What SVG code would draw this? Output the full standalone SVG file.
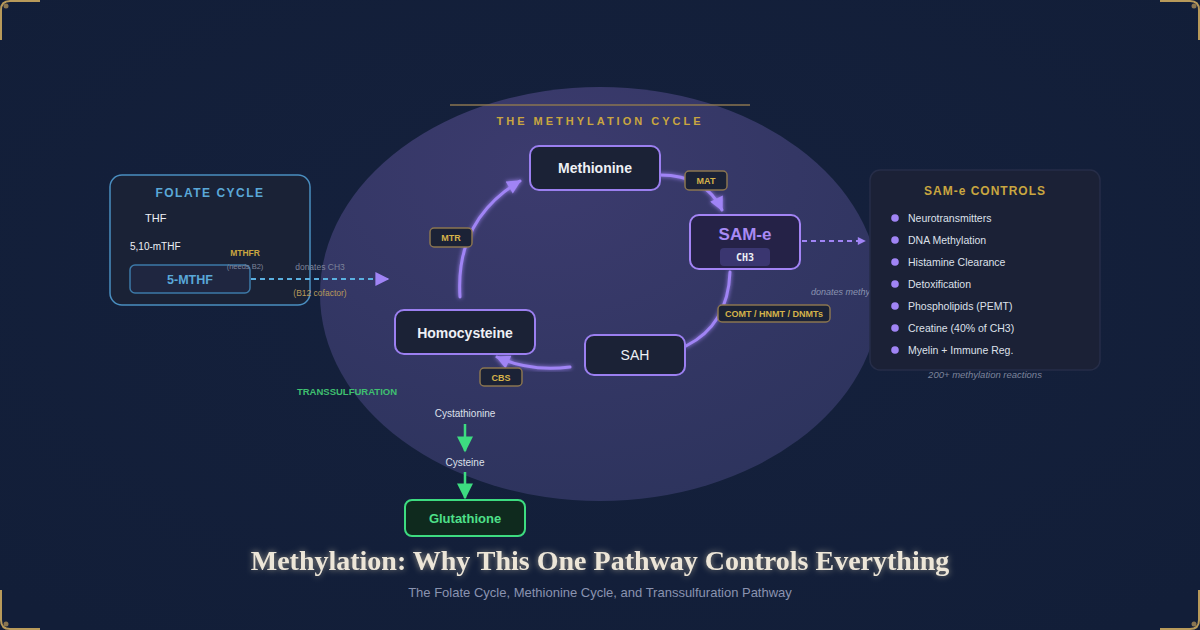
<svg xmlns="http://www.w3.org/2000/svg" width="1200" height="630" viewBox="0 0 1200 630">
<defs>
<radialGradient id="bgG" cx="0.5" cy="0.45" r="0.7">
<stop offset="0" stop-color="#15213d"/>
<stop offset="1" stop-color="#121e38"/>
</radialGradient>
<radialGradient id="ellG" cx="0.4" cy="0.2" r="0.9">
<stop offset="0" stop-color="#3c3b6e"/>
<stop offset="1" stop-color="#2c335c"/>
</radialGradient>
<filter id="glow" x="-30%" y="-30%" width="160%" height="160%">
<feGaussianBlur stdDeviation="2" result="b"/>
<feMerge><feMergeNode in="b"/><feMergeNode in="SourceGraphic"/></feMerge>
</filter>
<filter id="tglow" x="-10%" y="-50%" width="120%" height="200%">
<feGaussianBlur stdDeviation="3" result="b"/>
<feFlood flood-color="#f4e6c0" flood-opacity="0.55"/>
<feComposite in2="b" operator="in" result="c"/>
<feMerge><feMergeNode in="c"/><feMergeNode in="SourceGraphic"/></feMerge>
</filter>
<marker id="arrD" viewBox="0 0 10 10" refX="9" refY="5" markerWidth="10" markerHeight="8" orient="auto" markerUnits="userSpaceOnUse">
<path d="M0,0 L10,5 L0,10 Z" fill="#a084f5"/>
</marker>
<marker id="arrF" viewBox="0 0 10 10" refX="9" refY="5" markerWidth="20" markerHeight="14" orient="auto" markerUnits="userSpaceOnUse">
<path d="M0,0 L10,5 L0,10 Z" fill="#a084f5"/>
</marker>
<marker id="arrG" viewBox="0 0 10 10" refX="9" refY="5" markerWidth="26" markerHeight="16" orient="auto" markerUnits="userSpaceOnUse">
<path d="M0,0 L10,5 L0,10 Z" fill="#3ddc80"/>
</marker>
<style>
.sans{font-family:"Liberation Sans",Arial,sans-serif}
.node{fill:#1b2236;stroke:#9b7ff0;stroke-width:2}
.ntext{font-family:"Liberation Sans",Arial,sans-serif;font-weight:bold;font-size:14px;fill:#eef0f5;text-anchor:middle}
.enz rect{fill:#1b2236;stroke:#8a7550;stroke-width:1.5}
.enz text{font-family:"Liberation Sans",Arial,sans-serif;font-weight:bold;font-size:9px;fill:#d4b24a;text-anchor:middle}
.arc{fill:none;stroke:#a084f5;stroke-width:3;stroke-linecap:round}
.item{font-family:"Liberation Sans",Arial,sans-serif;font-size:10.5px;fill:#dde0ea}
.bul{fill:#a084f5}
.corner{fill:none;stroke:#b89a5a;stroke-width:2}
.cdot{fill:#8a7550}
</style>
</defs>

<rect width="1200" height="630" fill="url(#bgG)"/>

<g id="corners">
<path class="corner" d="M1,40 V10 Q1,1 10,1 H40"/>
<circle class="cdot" cx="6" cy="6" r="2.5"/>
<path class="corner" d="M1160,1 H1190 Q1199,1 1199,10 V40"/>
<circle class="cdot" cx="1194" cy="6" r="2.5"/>
<path class="corner" d="M1,590 V620 Q1,629 10,629 H40"/>
<circle class="cdot" cx="6" cy="624" r="2.5"/>
<path class="corner" d="M1160,629 H1190 Q1199,629 1199,620 V590"/>
<circle class="cdot" cx="1194" cy="624" r="2.5"/>
</g>

<ellipse id="cycle-bg" cx="600" cy="294" rx="280" ry="207" fill="url(#ellG)"/>

<g id="cycle-title">
<line x1="450" y1="105" x2="750" y2="105" stroke="#8a7550" stroke-width="1.5"/>
<text class="sans" x="600" y="125" text-anchor="middle" font-size="11" font-weight="bold" letter-spacing="3" fill="#c9a640">THE METHYLATION CYCLE</text>
</g>

<g id="folate">
<rect x="110" y="175" width="200" height="130" rx="12" fill="#1a2236" stroke="#4a8ec0" stroke-width="1.5"/>
<text class="sans" x="210" y="197" text-anchor="middle" font-size="12" font-weight="bold" letter-spacing="1.5" fill="#5aa8d8">FOLATE CYCLE</text>
<text class="sans" x="145" y="222" font-size="11" fill="#eef0f5">THF</text>
<text class="sans" x="130" y="250" font-size="10" fill="#eef0f5">5,10-mTHF</text>
<text class="sans" x="245" y="256" text-anchor="middle" font-size="8.5" font-weight="bold" fill="#c9a640">MTHFR</text>
</g>

<g id="connectors">
<path class="arc" filter="url(#glow)" d="M660,175 Q705,175 722,210" marker-end="url(#arrF)"/>
<path class="arc" filter="url(#glow)" d="M730,272 Q728,325 686,346"/>
<path class="arc" filter="url(#glow)" d="M570,367 Q530,372 497,357" marker-end="url(#arrF)"/>
<path class="arc" filter="url(#glow)" d="M460,297 Q455,220 520,181" marker-end="url(#arrF)"/>
<path d="M802,241 H865" stroke="#a084f5" stroke-width="2" stroke-dasharray="5,4" fill="none" marker-end="url(#arrD)"/>
<path d="M251,279 H388" stroke="#5ab0e0" stroke-width="2" stroke-dasharray="5,4" fill="none" marker-end="url(#arrF)"/>
<path d="M465,424 V451" stroke="#3ddc80" stroke-width="2.5" fill="none" marker-end="url(#arrG)"/>
<path d="M465,472 V498" stroke="#3ddc80" stroke-width="2.5" fill="none" marker-end="url(#arrG)"/>
</g>

<g id="mthf">
<rect x="130" y="265" width="120" height="28" rx="5" fill="#1f2640" stroke="#3d7aa8" stroke-width="1.5"/>
<text class="sans" x="190" y="284" text-anchor="middle" font-size="12.5" font-weight="bold" fill="#5aa8d8">5-MTHF</text>
</g>
<text class="sans" x="245" y="269" text-anchor="middle" font-size="7.5" fill="#7d849a">(needs B2)</text>
<text class="sans" x="320" y="270" text-anchor="middle" font-size="8.5" fill="#7d849a">donates CH3</text>
<text class="sans" x="320" y="296" text-anchor="middle" font-size="8.5" fill="#b89a5a">(B12 cofactor)</text>

<g id="methionine">
<rect class="node" x="530" y="146" width="130" height="44" rx="9"/>
<text class="ntext" x="595" y="173">Methionine</text>
</g>
<g id="same">
<rect x="690" y="215" width="110" height="54" rx="9" fill="#252247" stroke="#a384f5" stroke-width="2"/>
<text class="sans" x="745" y="240" text-anchor="middle" font-size="17" font-weight="bold" fill="#a88af5">SAM-e</text>
<rect x="720" y="248" width="50" height="18" rx="4" fill="#3a3670"/>
<text x="745" y="261" text-anchor="middle" font-family="'DejaVu Sans Mono',monospace" font-size="10" font-weight="bold" fill="#eef0f5">CH3</text>
</g>
<g id="sah">
<rect class="node" x="585" y="335" width="100" height="40" rx="9"/>
<text class="sans" x="635" y="360" text-anchor="middle" font-size="14" fill="#eef0f5">SAH</text>
</g>
<g id="homocysteine">
<rect class="node" x="395" y="310" width="140" height="44" rx="9"/>
<text class="ntext" x="465" y="338">Homocysteine</text>
</g>

<g id="enz-mat" class="enz"><rect x="685" y="171" width="42" height="19" rx="4"/><text x="706" y="184">MAT</text></g>
<g id="enz-comt" class="enz"><rect x="718" y="305" width="112" height="17" rx="4"/><text x="774" y="317" font-size="8.5">COMT / HNMT / DNMTs</text></g>
<g id="enz-cbs" class="enz"><rect x="480" y="368" width="42" height="18" rx="4"/><text x="501" y="381">CBS</text></g>
<g id="enz-mtr" class="enz"><rect x="430" y="228" width="42" height="19" rx="4"/><text x="451" y="241">MTR</text></g>

<text class="sans" x="811" y="295" font-size="9" font-style="italic" fill="#8a93b0">donates methyl groups</text>

<g id="controls">
<rect x="870" y="170" width="230" height="200" rx="10" fill="#1b2136" stroke="#262d48" stroke-width="1.5"/>
<text class="sans" x="985" y="195" text-anchor="middle" font-size="12" font-weight="bold" letter-spacing="1" fill="#c9a640">SAM-e CONTROLS</text>
<circle class="bul" cx="895" cy="218" r="3.8"/><text class="item" x="908" y="222">Neurotransmitters</text>
<circle class="bul" cx="895" cy="240" r="3.8"/><text class="item" x="908" y="244">DNA Methylation</text>
<circle class="bul" cx="895" cy="262" r="3.8"/><text class="item" x="908" y="266">Histamine Clearance</text>
<circle class="bul" cx="895" cy="284" r="3.8"/><text class="item" x="908" y="288">Detoxification</text>
<circle class="bul" cx="895" cy="306" r="3.8"/><text class="item" x="908" y="310">Phospholipids (PEMT)</text>
<circle class="bul" cx="895" cy="328" r="3.8"/><text class="item" x="908" y="332">Creatine (40% of CH3)</text>
<circle class="bul" cx="895" cy="350" r="3.8"/><text class="item" x="908" y="354">Myelin + Immune Reg.</text>
</g>
<text class="sans" x="985" y="378" text-anchor="middle" font-size="9.5" font-style="italic" fill="#7d849a">200+ methylation reactions</text>

<g id="transsulfuration">
<text class="sans" x="347" y="395" text-anchor="middle" font-size="9.5" font-weight="bold" fill="#3fbf70">TRANSSULFURATION</text>
</g>
<g id="cystathionine"><text class="sans" x="465" y="417" text-anchor="middle" font-size="10" fill="#dde0ea">Cystathionine</text></g>
<g id="cysteine"><text class="sans" x="465" y="466" text-anchor="middle" font-size="10" fill="#dde0ea">Cysteine</text></g>
<g id="glutathione">
<rect x="405" y="500" width="120" height="36" rx="7" fill="#0f2a1e" stroke="#3ddc80" stroke-width="2"/>
<text class="sans" x="465" y="523" text-anchor="middle" font-size="13" font-weight="bold" fill="#4ee08a">Glutathione</text>
</g>

<g id="title">
<text x="600" y="570" text-anchor="middle" font-family="'Liberation Serif','Times New Roman',serif" font-size="28" font-weight="bold" fill="#ede6d8" filter="url(#tglow)">Methylation: Why This One Pathway Controls Everything</text>
<text class="sans" x="600" y="597" text-anchor="middle" font-size="13" fill="#8a93b0">The Folate Cycle, Methionine Cycle, and Transsulfuration Pathway</text>
</g>
</svg>
